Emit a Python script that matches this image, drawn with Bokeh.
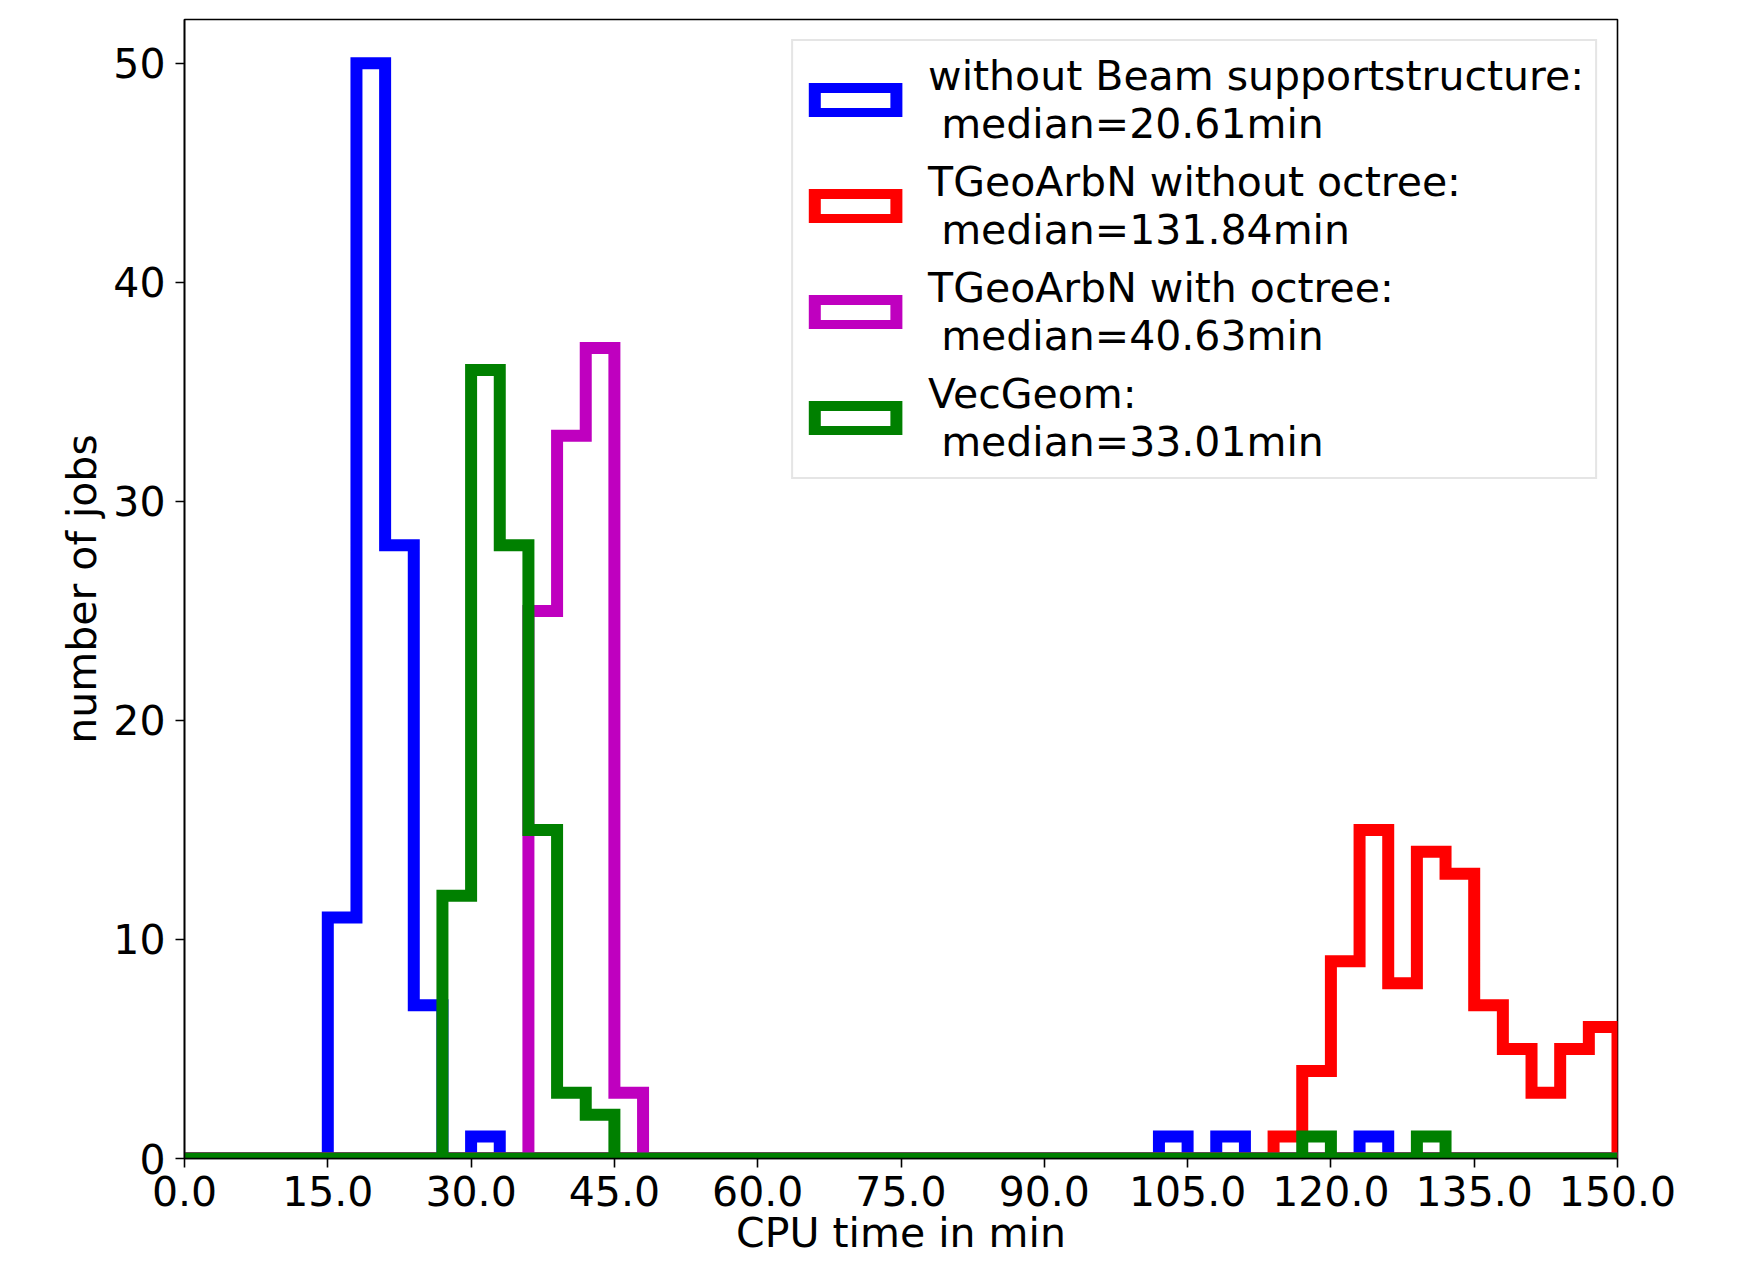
from bokeh.plotting import figure
from bokeh.models import (Range1d, FixedTicker, PrintfTickFormatter, Legend, LegendItem,
                          ColumnDataSource)
from bokeh.embed import file_html
from bokeh.resources import INLINE

# ---- data (counts per 3-minute bin, bins 0..150) ----
bin_width = 3
bin_edges = [i * bin_width for i in range(51)]

counts_no_beam = [0, 0, 0, 0, 0, 11, 50, 28, 7, 0,
                  1, 0, 0, 0, 0, 0, 0, 0, 0, 0,
                  0, 0, 0, 0, 0, 0, 0, 0, 0, 0,
                  0, 0, 0, 0, 1, 0, 1, 0, 0, 0,
                  0, 1, 0, 0, 0, 0, 0, 0, 0, 0]
counts_arbn_no_octree = [0, 0, 0, 0, 0, 0, 0, 0, 0, 0,
                         0, 0, 0, 0, 0, 0, 0, 0, 0, 0,
                         0, 0, 0, 0, 0, 0, 0, 0, 0, 0,
                         0, 0, 0, 0, 0, 0, 0, 0, 1, 4,
                         9, 15, 8, 14, 13, 7, 5, 3, 5, 6]
counts_arbn_octree = [0, 0, 0, 0, 0, 0, 0, 0, 0, 0,
                      0, 0, 25, 33, 37, 3, 0, 0, 0, 0,
                      0, 0, 0, 0, 0, 0, 0, 0, 0, 0,
                      0, 0, 0, 0, 0, 0, 0, 0, 0, 0,
                      0, 0, 0, 0, 0, 0, 0, 0, 0, 0]
counts_vecgeom = [0, 0, 0, 0, 0, 0, 0, 0, 0, 12,
                  36, 28, 15, 3, 2, 0, 0, 0, 0, 0,
                  0, 0, 0, 0, 0, 0, 0, 0, 0, 0,
                  0, 0, 0, 0, 0, 0, 0, 0, 0, 1,
                  0, 0, 0, 1, 0, 0, 0, 0, 0, 0]

series_labels = ["without Beam supportstructure:\n median=20.61min",
                 "TGeoArbN without octree:\n median=131.84min",
                 "TGeoArbN with octree:\n median=40.63min",
                 "VecGeom:\n median=33.01min"]
series_counts = [counts_no_beam, counts_arbn_no_octree, counts_arbn_octree, counts_vecgeom]
series_colors = ["#0000ff", "#ff0000", "#bf00bf", "#008000"]

x_ticks = [0, 15, 30, 45, 60, 75, 90, 105, 120, 135, 150]
y_ticks = [0, 10, 20, 30, 40, 50]

FONT = "DejaVu Sans"
FS = "41px"

p = figure(width=1745, height=1259, output_backend="svg", toolbar_location=None,
           x_range=Range1d(0, 150), y_range=Range1d(0, 52),
           min_border_left=184, min_border_right=128, min_border_top=19, min_border_bottom=0)
p.xgrid.visible = False
p.ygrid.visible = False
p.outline_line_color = "black"
p.outline_line_width = 1.6
p.outline_line_alpha = 1.0
p.background_fill_color = "white"
p.border_fill_color = "white"


def step_outline(edges, counts):
    xs = [edges[0]]
    ys = [0]
    for i, c in enumerate(counts):
        xs += [edges[i], edges[i + 1]]
        ys += [c, c]
    xs.append(edges[-1])
    ys.append(0)
    return xs, ys


renderers = []
for counts, color in zip(series_counts, series_colors):
    xs, ys = step_outline(bin_edges, counts)
    src = ColumnDataSource(dict(x=xs, y=ys))
    r = p.patch("x", "y", source=src, fill_alpha=0, line_color=color, line_width=12,
                line_join="miter")
    renderers.append(r)

for ax in (p.xaxis[0], p.yaxis[0]):
    ax.major_tick_in = 0
    ax.major_tick_out = 9
    ax.major_tick_line_width = 1.6
    ax.minor_tick_line_color = None
    ax.axis_line_width = 1.6
    ax.major_label_text_font = FONT
    ax.major_label_text_font_size = FS
    ax.major_label_text_color = "black"
    ax.axis_label_text_font = FONT
    ax.axis_label_text_font_size = FS
    ax.axis_label_text_font_style = "normal"
    ax.axis_label_text_color = "black"

p.xaxis[0].ticker = FixedTicker(ticks=x_ticks)
p.xaxis[0].formatter = PrintfTickFormatter(format="%.1f")
p.xaxis[0].axis_label = "CPU time in min"
p.xaxis[0].major_label_standoff = 8
p.xaxis[0].axis_label_standoff = 0

p.yaxis[0].ticker = FixedTicker(ticks=y_ticks)
p.yaxis[0].axis_label = "number of jobs"
p.yaxis[0].major_label_standoff = 10
p.yaxis[0].axis_label_standoff = 4

legend = Legend(items=[LegendItem(label=lab, renderers=[r]) for lab, r in zip(series_labels, renderers)],
                location="top_right", margin=20, padding=11, spacing=10,
                glyph_width=102, glyph_height=34, label_standoff=22,
                label_text_font=FONT, label_text_font_size=FS, label_text_color="black",
                border_line_color="#cccccc", border_line_width=2,
                background_fill_color="white", background_fill_alpha=0.8)
p.add_layout(legend)

open("out.html", "w").write(file_html(p, INLINE))
